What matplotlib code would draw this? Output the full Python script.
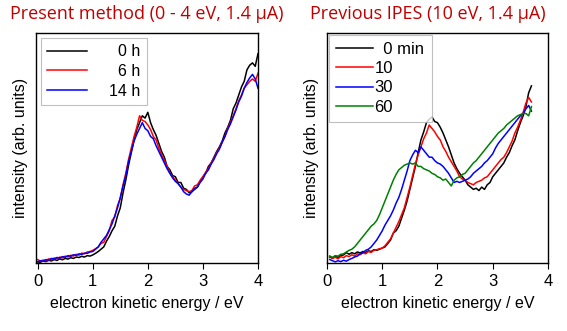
import numpy as np
import matplotlib
matplotlib.use('Agg')
import matplotlib.pyplot as plt

# left panel: present method, energy grid 0 - 4 eV
x_left = np.round(np.arange(0, 4.001, 0.05), 2)
h0 = [0.5, 0.3, 1.0, 0.6, 1.2, 0.9, 1.5, 1.1, 1.8, 1.4, 2.0, 1.7, 2.3, 2.0, 2.6, 2.4, 2.9, 2.6, 3.2, 3.0,
      3.5, 4.2, 5.0, 6.0, 7.0, 9.5, 11.5, 14.0, 16.0, 20.5, 24.0, 30.5, 36.0, 42.5, 48.0, 53.5, 58.0, 61.0, 64.0, 63.0,
      65.5, 61.0, 58.0, 55.5, 52.0, 48.5, 46.0, 42.0, 40.5, 38.0, 37.5, 35.0, 35.0, 32.5, 32.0, 30.5, 31.0, 32.0, 33.0, 35.5,
      37.5, 39.0, 42.0, 43.5, 46.0, 48.5, 50.5, 53.0, 56.5, 59.0, 62.0, 67.0, 69.5, 73.0, 76.5, 79.0, 84.0, 86.0, 87.0, 85.5,
      91.0]
h6 = [1.5, 0.8, 1.3, 1.0, 1.8, 1.4, 2.2, 1.8, 2.6, 2.2, 3.0, 2.6, 3.4, 3.0, 3.8, 3.4, 4.3, 4.0, 4.8, 5.0,
      5.5, 6.2, 7.0, 8.5, 9.0, 11.5, 14.0, 18.5, 20.0, 25.0, 28.0, 34.0, 39.0, 45.0, 50.0, 55.0, 59.0, 64.0, 62.0, 61.5,
      60.0, 58.0, 55.0, 53.5, 50.0, 47.0, 44.5, 42.0, 39.0, 37.5, 36.0, 34.5, 33.0, 32.0, 31.5, 31.0, 31.5, 33.5, 34.0, 36.0,
      37.5, 39.5, 41.0, 43.5, 45.5, 48.0, 50.0, 52.5, 55.0, 58.5, 61.0, 64.0, 67.0, 70.5, 73.0, 76.0, 77.5, 79.0, 80.0, 79.0,
      82.5]
h14 = [0.5, 1.0, 0.8, 1.5, 1.2, 2.0, 1.7, 2.4, 2.1, 2.8, 2.5, 3.2, 2.9, 3.6, 3.3, 4.0, 3.7, 4.3, 4.2, 4.8,
       5.0, 6.0, 7.0, 9.0, 10.5, 12.0, 14.5, 17.0, 20.5, 24.0, 28.5, 33.5, 38.0, 44.0, 48.5, 53.0, 56.0, 58.5, 61.0, 58.5,
       57.5, 55.0, 54.0, 51.0, 48.5, 46.0, 43.5, 41.0, 39.0, 37.0, 35.5, 34.5, 33.0, 31.0, 30.0, 29.5, 31.0, 32.5, 33.0, 35.0,
       36.5, 39.0, 40.5, 43.0, 45.0, 47.5, 49.5, 52.5, 55.0, 58.0, 60.5, 63.5, 66.5, 70.0, 72.5, 76.0, 78.5, 80.5, 82.0, 80.0,
       76.0]

# right panel: previous IPES, energy grid 0.05 - 3.7 eV
x_right = np.round(np.arange(0.05, 3.701, 0.05), 2)
m0 = [2.6, 2.0, 3.0, 2.4, 3.3, 3.5, 4.5, 3.8, 4.5, 4.0, 4.8, 4.4, 5.0, 4.6, 5.3, 5.0, 5.8, 5.5, 6.0,
      6.5, 7.0, 8.5, 10.0, 13.0, 14.0, 16.0, 19.5, 23.0, 27.0, 32.0, 37.0, 42.0, 48.0, 53.5, 57.0, 61.0, 62.5, 63.5, 61.5,
      61.0, 59.0, 56.5, 53.5, 50.5, 47.0, 43.5, 41.0, 39.0, 37.5, 36.0, 34.0, 33.0, 32.0, 32.5, 31.5, 33.0, 32.0, 34.0, 35.0,
      37.5, 39.0, 40.5, 42.0, 43.5, 46.0, 48.0, 51.0, 53.5, 57.5, 61.0, 64.0, 68.0, 74.0, 77.0]
m10 = [3.0, 2.0, 2.5, 1.8, 2.8, 2.3, 3.2, 2.8, 3.6, 3.0, 4.0, 3.6, 4.4, 4.0, 5.0, 4.6, 5.5, 5.8, 6.2,
       6.5, 7.5, 9.0, 10.5, 13.0, 15.5, 18.0, 21.0, 24.0, 28.5, 33.0, 38.0, 43.0, 47.0, 50.5, 54.0, 56.5, 60.0, 58.5, 57.0,
       55.0, 53.5, 50.5, 48.5, 46.0, 44.0, 42.0, 40.0, 37.5, 36.5, 36.0, 35.0, 34.5, 34.0, 35.0, 35.5, 36.0, 37.0, 37.5, 39.0,
       40.5, 42.0, 43.5, 45.0, 46.0, 48.0, 50.5, 53.0, 56.5, 59.0, 62.0, 65.5, 69.5, 72.0, 70.0]
m30 = [1.5, 1.0, 0.5, 1.0, 0.6, 1.2, 0.8, 1.5, 2.0, 2.6, 3.0, 4.0, 4.5, 5.5, 6.0, 7.0, 8.5, 10.0, 12.0,
       14.0, 16.5, 18.5, 20.5, 23.0, 26.0, 28.5, 32.0, 36.0, 40.0, 44.5, 47.0, 49.0, 48.0, 50.5, 49.0, 47.5, 46.0, 46.0, 44.5,
       43.5, 43.0, 42.0, 40.5, 39.0, 37.0, 35.0, 35.5, 35.0, 35.5, 36.0, 36.5, 37.5, 39.0, 40.0, 41.0, 42.0, 43.5, 44.5, 46.0,
       47.5, 50.0, 52.0, 53.5, 55.0, 56.5, 58.0, 59.5, 61.0, 62.5, 64.0, 65.0, 67.0, 68.5, 66.0]
m60 = [3.0, 2.5, 3.2, 3.0, 3.8, 4.0, 4.8, 5.5, 6.0, 7.0, 8.5, 10.0, 11.5, 13.0, 14.5, 16.0, 17.0, 18.5, 21.0,
       24.0, 27.0, 30.0, 33.0, 36.0, 38.5, 40.5, 41.5, 42.5, 43.0, 43.5, 43.0, 43.5, 42.0, 42.0, 41.0, 40.5, 40.0, 39.0, 38.5,
       37.5, 37.0, 36.0, 36.5, 35.0, 33.5, 36.0, 37.0, 37.5, 38.5, 39.0, 40.5, 42.0, 43.5, 44.5, 46.0, 47.5, 49.0, 50.5, 52.0,
       53.5, 55.0, 56.5, 57.5, 58.5, 60.0, 61.0, 62.0, 63.0, 64.0, 64.5, 65.0, 65.0, 64.0, 68.0]

plt.rcParams['font.family'] = ['Liberation Sans', 'DejaVu Sans']

fig = plt.figure(figsize=(5.67, 3.31), dpi=100)
ax1 = fig.add_axes([0.0635, 0.2054, 0.3915, 0.695])
ax2 = fig.add_axes([0.5767, 0.2054, 0.3898, 0.695])

ax1.plot(x_left, h0, color='black', lw=1.1, label='    0 h')
ax1.plot(x_left, h6, color='red', lw=1.1, label='    6 h')
ax1.plot(x_left, h14, color='blue', lw=1.1, label='  14 h')
ax1.set_xlim(-0.03, 4)

ax2.plot(x_right, m0, color='black', lw=1.1, label='  0 min')
ax2.plot(x_right, m10, color='red', lw=1.1, label='10')
ax2.plot(x_right, m30, color='blue', lw=1.1, label='30')
ax2.plot(x_right, m60, color='green', lw=1.1, label='60')
ax2.set_xlim(0, 4)

for ax in [ax1, ax2]:
    ax.set_ylim(0, 100)
    ax.set_yticks([])
    ax.set_xticks([0, 1, 2, 3, 4])
    ax.tick_params(axis='x', direction='out', length=4, labelsize=12, pad=4)
    ax.set_xlabel('electron kinetic energy / eV', fontsize=11.5, labelpad=5)
    ax.set_ylabel('intensity (arb. units)', fontsize=11.5, labelpad=6)
    for s in ax.spines.values():
        s.set_linewidth(1.0)

fig.text(0.258, 0.957, 'Present method (0 - 4 eV, 1.4 \u03bcA)', color='#c00000',
         fontsize=13, family='Open Sans', ha='center', va='center')
fig.text(0.755, 0.957, 'Previous IPES (10 eV, 1.4 \u03bcA)', color='#c00000',
         fontsize=13, family='Open Sans', ha='center', va='center')

leg1 = ax1.legend(loc='upper left', fontsize=11.5, frameon=True, fancybox=False,
                  handlelength=2.5, borderaxespad=0.3, labelspacing=0.3)
leg1.get_frame().set_edgecolor('#b0b0b0')
leg1.get_frame().set_linewidth(0.8)

leg2 = ax2.legend(loc='upper left', fontsize=12, frameon=True, fancybox=False,
                  handlelength=2.2, handletextpad=0.1, borderaxespad=0.1, labelspacing=0.25,
                  borderpad=0.45)
leg2.get_frame().set_edgecolor('#b0b0b0')
leg2.get_frame().set_linewidth(0.8)

fig.savefig('out.png', dpi=100)
